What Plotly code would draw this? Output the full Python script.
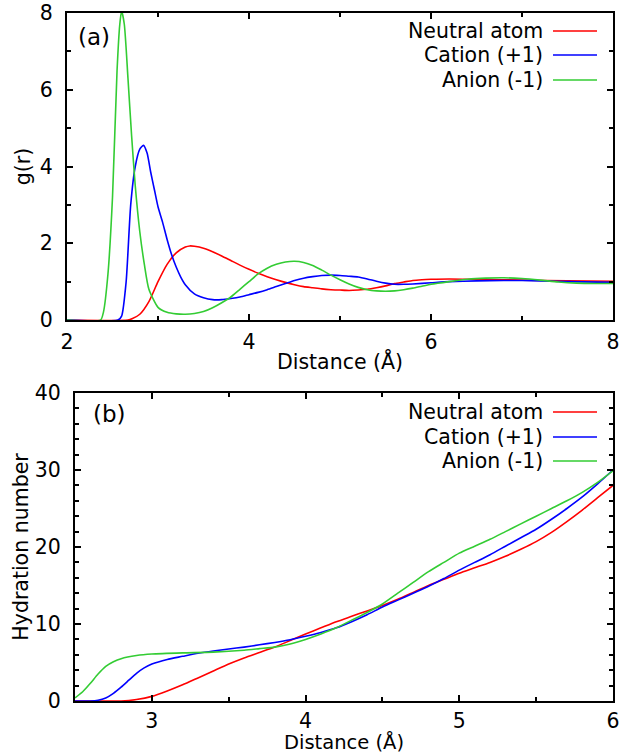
import plotly.graph_objects as go

# ---------- Data: panel (a) radial distribution g(r) ----------
gr_neutral_x = [2.0, 2.67, 2.72, 2.8, 2.9, 3.0, 3.1, 3.2, 3.3, 3.35, 3.4, 3.5, 3.6, 3.7, 3.8, 3.9,
                4.0, 4.1, 4.2, 4.3, 4.4, 4.5, 4.6, 4.7, 4.8, 4.9, 5.0, 5.1, 5.2, 5.3, 5.4, 5.5,
                5.6, 5.7, 5.8, 5.9, 6.0, 6.2, 6.5, 7.0, 7.5, 8.0]
gr_neutral_y = [0, 0, 0.04, 0.15, 0.48, 1.0, 1.45, 1.75, 1.9, 1.93, 1.92, 1.87, 1.78, 1.67, 1.55, 1.43,
                1.32, 1.22, 1.13, 1.05, 0.98, 0.92, 0.87, 0.84, 0.81, 0.79, 0.78, 0.77, 0.78, 0.8, 0.84, 0.89,
                0.95, 0.99, 1.03, 1.05, 1.06, 1.07, 1.06, 1.04, 1.02, 1.01]

gr_cation_x = [2.0, 2.56, 2.6, 2.65, 2.7, 2.75, 2.8, 2.84, 2.88, 2.92, 2.96, 3.0, 3.05, 3.1, 3.15,
               3.2, 3.25, 3.3, 3.4, 3.5, 3.6, 3.7, 3.8, 3.9, 4.0, 4.1, 4.2, 4.3, 4.4, 4.5, 4.6,
               4.7, 4.8, 4.9, 5.0, 5.1, 5.2, 5.3, 5.4, 5.5, 5.6, 5.7, 5.8, 6.0, 6.2, 6.5, 6.8,
               7.0, 7.2, 7.5, 8.0]
gr_cation_y = [0, 0, 0.1, 1.0, 3.0, 4.0, 4.45, 4.55, 4.35, 3.85, 3.4, 2.95, 2.55, 2.1, 1.7,
               1.38, 1.12, 0.92, 0.68, 0.58, 0.53, 0.53, 0.56, 0.6, 0.66, 0.72, 0.79, 0.87, 0.95, 1.03, 1.09,
               1.13, 1.16, 1.17, 1.16, 1.14, 1.12, 1.07, 1.01, 0.96, 0.93, 0.93, 0.94, 0.97, 1.0, 1.02, 1.03,
               1.03, 1.02, 1.0, 0.98]

gr_anion_x = [2.0, 2.37, 2.4, 2.45, 2.5, 2.55, 2.58, 2.6, 2.63, 2.67, 2.71, 2.75, 2.8, 2.85, 2.9,
              3.0, 3.1, 3.2, 3.3, 3.4, 3.5, 3.6, 3.7, 3.8, 3.9, 4.0, 4.1, 4.2, 4.3, 4.4, 4.5,
              4.6, 4.7, 4.8, 4.9, 5.0, 5.1, 5.2, 5.3, 5.4, 5.5, 5.6, 5.7, 5.8, 5.9, 6.0, 6.2,
              6.4, 6.6, 6.8, 7.0, 7.2, 7.4, 7.6, 7.8, 8.0]
gr_anion_y = [0, 0, 0.2, 1.2, 3.2, 6.5, 7.7, 8.05, 7.7, 6.3, 4.8, 3.5, 2.3, 1.45, 0.8,
              0.33, 0.2, 0.16, 0.15, 0.17, 0.22, 0.32, 0.45, 0.6, 0.8, 1.0, 1.2, 1.35, 1.45, 1.51, 1.53,
              1.5, 1.42, 1.3, 1.17, 1.05, 0.94, 0.85, 0.79, 0.76, 0.75, 0.76, 0.79, 0.83, 0.88, 0.93, 1.0,
              1.06, 1.09, 1.1, 1.08, 1.04, 0.99, 0.96, 0.95, 0.95]

# ---------- Data: panel (b) hydration number ----------
hn_neutral_x = [2.5, 2.8, 2.9, 3.0, 3.1, 3.2, 3.3, 3.4, 3.5, 3.6, 3.7, 3.8, 3.9, 4.0, 4.1, 4.2,
                4.3, 4.4, 4.5, 4.6, 4.7, 4.8, 4.9, 5.0, 5.1, 5.2, 5.3, 5.4, 5.5, 5.6, 5.7, 5.8,
                5.9, 6.0]
hn_neutral_y = [0, 0, 0.2, 0.6, 1.3, 2.1, 3.0, 3.9, 4.8, 5.6, 6.3, 7.0, 7.85, 8.7, 9.5, 10.3,
                11.0, 11.7, 12.4, 13.2, 14.1, 15.0, 15.8, 16.6, 17.3, 18.0, 18.8, 19.7, 20.7, 21.9, 23.3, 24.8,
                26.4, 28.0]

hn_cation_x = [2.5, 2.6, 2.65, 2.7, 2.75, 2.8, 2.85, 2.9, 2.95, 3.0, 3.1, 3.2, 3.3, 3.4, 3.5, 3.6,
               3.7, 3.8, 3.9, 4.0, 4.1, 4.2, 4.3, 4.4, 4.5, 4.6, 4.7, 4.8, 4.9, 5.0, 5.1, 5.2,
               5.3, 5.4, 5.5, 5.6, 5.7, 5.8, 5.9, 6.0]
hn_cation_y = [0, 0, 0.1, 0.4, 1.0, 1.8, 2.7, 3.6, 4.3, 4.8, 5.4, 5.8, 6.2, 6.5, 6.75, 7.0,
               7.3, 7.6, 7.95, 8.4, 8.9, 9.5, 10.3, 11.2, 12.2, 13.1, 14.0, 14.9, 15.9, 17.0, 18.0, 19.0,
               20.1, 21.2, 22.3, 23.6, 25.0, 26.5, 28.2, 30.0]

hn_anion_x = [2.5, 2.55, 2.6, 2.65, 2.7, 2.75, 2.8, 2.9, 3.0, 3.2, 3.4, 3.6, 3.7, 3.8, 3.9, 4.0,
              4.1, 4.2, 4.3, 4.4, 4.5, 4.6, 4.7, 4.8, 4.9, 5.0, 5.1, 5.2, 5.3, 5.4, 5.5, 5.6,
              5.7, 5.8, 5.9, 6.0]
hn_anion_y = [0.4, 1.2, 2.3, 3.5, 4.5, 5.1, 5.5, 5.9, 6.1, 6.25, 6.35, 6.6, 6.8, 7.0, 7.4, 8.0,
              8.7, 9.5, 10.5, 11.5, 12.6, 14.0, 15.4, 16.8, 18.0, 19.2, 20.1, 21.0, 22.0, 23.0, 24.0, 25.0,
              26.0, 27.1, 28.4, 29.9]

series_names = ["Neutral atom", "Cation (+1)", "Anion (-1)"]
series_colors = ["#ff0000", "#0000ff", "#33cc33"]

W, H = 638, 754
FONT = "DejaVu Sans"
FS = 20.5

fig = go.Figure()

panel_a = [(gr_neutral_x, gr_neutral_y), (gr_cation_x, gr_cation_y), (gr_anion_x, gr_anion_y)]
panel_b = [(hn_neutral_x, hn_neutral_y), (hn_cation_x, hn_cation_y), (hn_anion_x, hn_anion_y)]

for (x, y), name, c in zip(panel_a, series_names, series_colors):
    fig.add_trace(go.Scatter(x=x, y=y, mode="lines", name=name, showlegend=False,
                             line=dict(color=c, width=1.6, shape="spline", smoothing=0.6),
                             xaxis="x", yaxis="y"))
for (x, y), name, c in zip(panel_b, series_names, series_colors):
    fig.add_trace(go.Scatter(x=x, y=y, mode="lines", name=name, showlegend=False,
                             line=dict(color=c, width=1.6, shape="spline", smoothing=0.6),
                             xaxis="x2", yaxis="y2"))

def px_x(p):
    return p / W

def px_y(p):
    return 1 - p / H

axis_common = dict(showline=True, linecolor="black", linewidth=2, mirror="allticks",
                   ticks="inside", ticklen=6, tickwidth=1.5, tickcolor="black",
                   showgrid=False, zeroline=False, automargin=False,
                   tickfont=dict(family=FONT, size=FS, color="black"))

fig.update_layout(
    width=W, height=H,
    margin=dict(l=0, r=0, t=0, b=0, autoexpand=False),
    paper_bgcolor="white", plot_bgcolor="white",
    font=dict(family=FONT, size=FS, color="black"),
    xaxis=dict(domain=[px_x(67), px_x(613)], range=[2, 8], tickvals=[2, 4, 6, 8],
               minor=dict(ticks="inside", ticklen=4, tickvals=[3, 5, 7], tickcolor="black"),
               ticklabelstandoff=2,
               title=dict(text="Distance (Å)", standoff=2,
                          font=dict(family=FONT, size=FS, color="black")),
               anchor="y", **axis_common),
    yaxis=dict(domain=[px_y(320), px_y(13)], range=[0, 8], tickvals=[0, 2, 4, 6, 8],
               minor=dict(ticks="inside", ticklen=4, tickvals=[1, 3, 5, 7], tickcolor="black"),
               ticklabelstandoff=8,
               title=dict(text="g(r)", standoff=4,
                          font=dict(family=FONT, size=FS, color="black")),
               anchor="x", **axis_common),
    xaxis2=dict(domain=[px_x(75), px_x(613)], range=[2.5, 6], tickvals=[3, 4, 5, 6],
                minor=dict(ticks="inside", ticklen=4, tickvals=[3.5, 4.5, 5.5], tickcolor="black"),
                ticklabelstandoff=0,
                title=dict(text="Distance (Å)", standoff=5,
                           font=dict(family=FONT, size=19.5, color="black")),
                anchor="y2", **axis_common),
    yaxis2=dict(domain=[px_y(701), px_y(393)], range=[0, 40], tickvals=[0, 10, 20, 30, 40],
                minor=dict(ticks="inside", ticklen=4,
                           tickvals=[2, 4, 6, 8, 12, 14, 16, 18, 22, 24, 26, 28, 32, 34, 36, 38],
                           tickcolor="black"),
                ticklabelstandoff=8,
                title=dict(text="Hydration number", standoff=1,
                           font=dict(family=FONT, size=FS, color="black")),
                anchor="x2", **axis_common),
)

annotations = []
shapes = []
# panel labels
annotations.append(dict(text="(a)", x=px_x(76), y=px_y(37), xref="paper", yref="paper",
                        xanchor="left", yanchor="middle", showarrow=False,
                        font=dict(family=FONT, size=23, color="black")))
annotations.append(dict(text="(b)", x=px_x(91), y=px_y(414), xref="paper", yref="paper",
                        xanchor="left", yanchor="middle", showarrow=False,
                        font=dict(family=FONT, size=23, color="black")))

# manual key (text on left, line sample on right, as in the reference)
for rows in ([31, 55, 80], [412, 437, 461]):
    for yy, name, c in zip(rows, series_names, series_colors):
        annotations.append(dict(text=name, x=px_x(545), y=px_y(yy), xref="paper", yref="paper",
                                xanchor="right", yanchor="middle", showarrow=False,
                                font=dict(family=FONT, size=FS, color="black")))
        shapes.append(dict(type="line", xref="paper", yref="paper",
                           x0=px_x(553), x1=px_x(597), y0=px_y(yy), y1=px_y(yy),
                           line=dict(color=c, width=1.6)))

fig.update_layout(annotations=annotations, shapes=shapes)

fig.write_html("out.html")
